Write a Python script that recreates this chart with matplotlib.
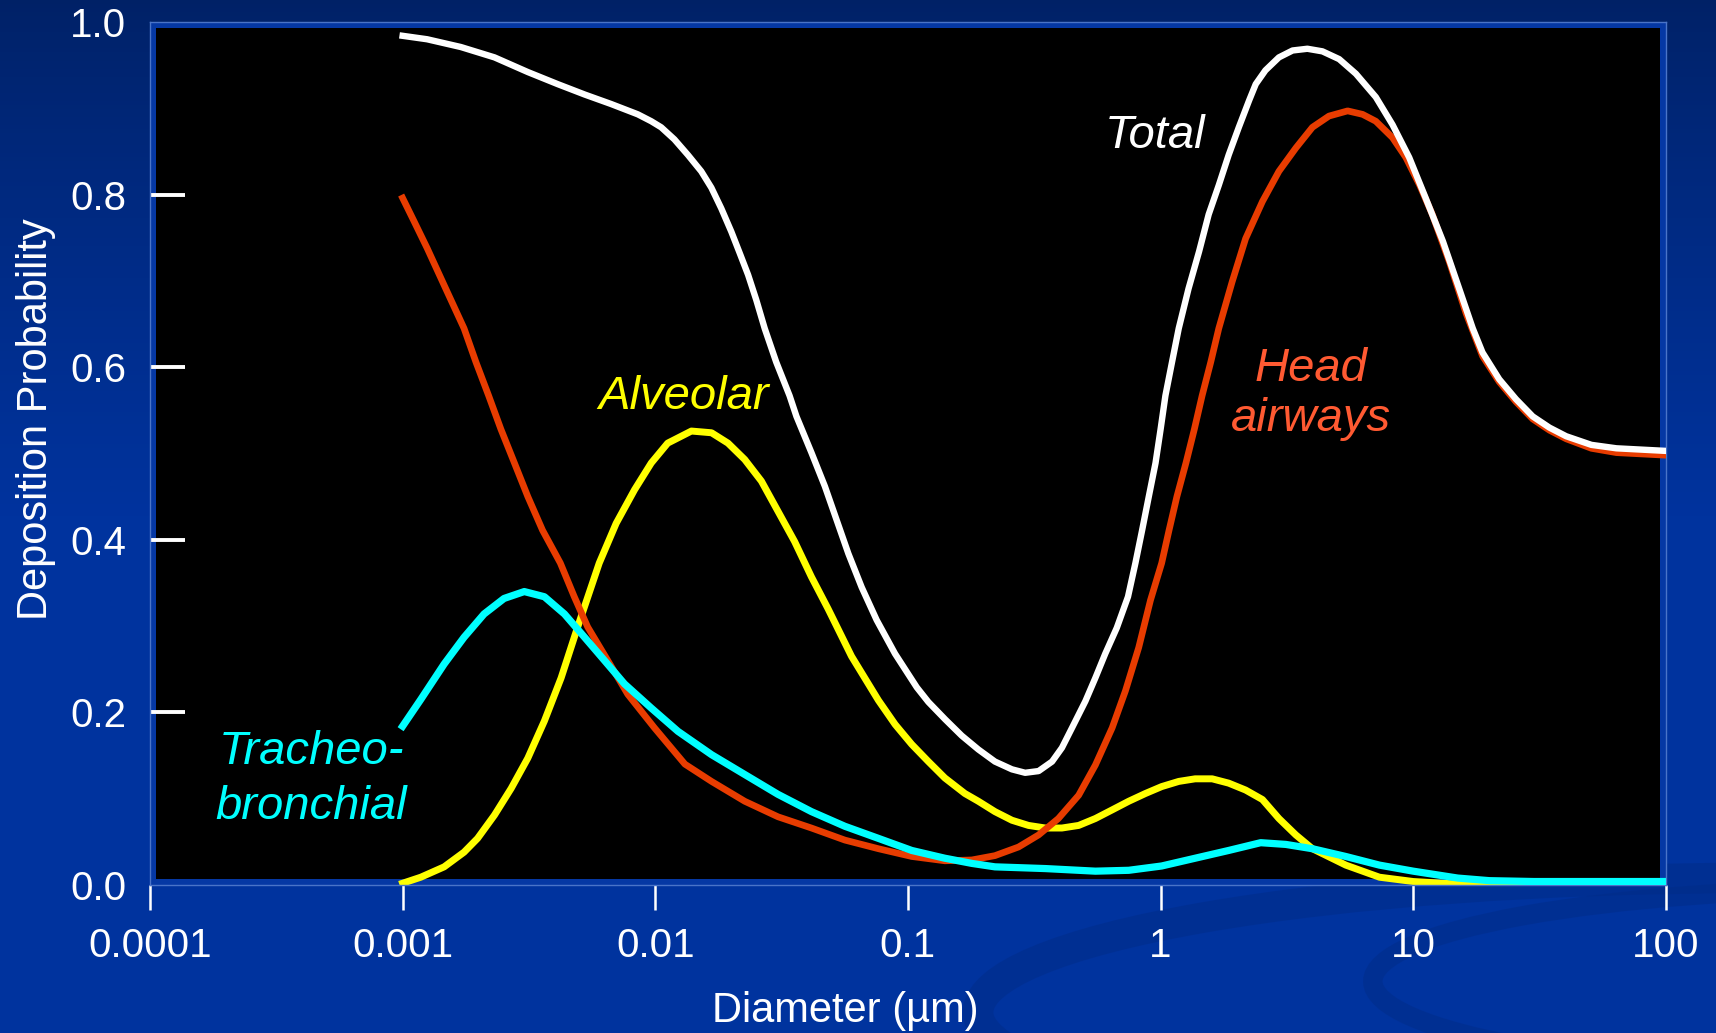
import numpy as np
import matplotlib
matplotlib.use('Agg')
import matplotlib.pyplot as plt
from matplotlib.patches import Rectangle, Ellipse

plt.rcParams['font.family'] = ['Liberation Sans', 'DejaVu Sans']

# Total
d_total = [0.001, 0.00125, 0.0017, 0.00231, 0.00313, 0.00411, 0.00525, 0.00668, 0.00853, 0.00964,
           0.01055, 0.0119, 0.01346, 0.0152, 0.01667, 0.01825, 0.0200, 0.0216, 0.0233, 0.0251,
           0.0271, 0.0301, 0.0340, 0.0362, 0.0415, 0.0469, 0.0522, 0.0581, 0.0656, 0.0752,
           0.0889, 0.1084, 0.1205, 0.1403, 0.1633, 0.190, 0.221, 0.258, 0.291, 0.329,
           0.372, 0.407, 0.446, 0.504, 0.552, 0.604, 0.671, 0.743, 0.795, 0.845,
           0.898, 0.955, 1.0, 1.045, 1.11, 1.18, 1.29, 1.42, 1.55, 1.70,
           1.86, 2.04, 2.24, 2.38, 2.60, 2.94, 3.33, 3.81, 4.37, 5.09,
           5.93, 7.11, 8.28, 9.64, 11.2, 13.1, 15.2, 17.2, 18.8, 21.9,
           25.5, 29.7, 34.6, 40.3, 50.7, 63.7, 100]
p_total = [0.984, 0.980, 0.971, 0.959, 0.942, 0.928, 0.916, 0.905, 0.893, 0.885,
           0.878, 0.864, 0.846, 0.827, 0.808, 0.784, 0.757, 0.732, 0.707, 0.678,
           0.645, 0.606, 0.567, 0.543, 0.501, 0.462, 0.423, 0.384, 0.345, 0.307,
           0.268, 0.229, 0.212, 0.192, 0.173, 0.157, 0.143, 0.134, 0.130, 0.132,
           0.143, 0.159, 0.182, 0.213, 0.240, 0.268, 0.298, 0.334, 0.373, 0.411,
           0.450, 0.489, 0.528, 0.567, 0.606, 0.645, 0.691, 0.734, 0.777, 0.811,
           0.846, 0.878, 0.909, 0.928, 0.944, 0.959, 0.967, 0.969, 0.966, 0.957,
           0.940, 0.913, 0.881, 0.843, 0.796, 0.746, 0.691, 0.645, 0.617, 0.586,
           0.563, 0.543, 0.530, 0.520, 0.510, 0.506, 0.503]

# Head airways
d_head = [0.001, 0.00111, 0.00125, 0.00146, 0.00175, 0.00195, 0.00219, 0.00245, 0.00277, 0.00313,
          0.00358, 0.00421, 0.00478, 0.0054, 0.00649, 0.00778, 0.00993, 0.0131, 0.0167, 0.0226,
          0.0306, 0.0415, 0.0563, 0.0764, 0.1035, 0.140, 0.179, 0.221, 0.274, 0.329,
          0.394, 0.474, 0.552, 0.643, 0.726, 0.819, 0.912, 1.01, 1.08, 1.16,
          1.26, 1.36, 1.46, 1.58, 1.70, 1.92, 2.17, 2.53, 2.94, 3.43,
          3.99, 4.64, 5.50, 6.30, 7.11, 8.28, 9.35, 10.6, 11.9, 13.9,
          16.2, 18.8, 21.9, 25.5, 29.7, 34.6, 40.3, 50.7, 63.7, 100]
p_head = [0.796, 0.769, 0.738, 0.695, 0.645, 0.606, 0.567, 0.528, 0.489, 0.450,
          0.411, 0.373, 0.334, 0.299, 0.260, 0.221, 0.182, 0.140, 0.120, 0.097,
          0.079, 0.066, 0.052, 0.042, 0.033, 0.028, 0.029, 0.034, 0.044, 0.058,
          0.077, 0.104, 0.139, 0.182, 0.225, 0.275, 0.330, 0.373, 0.411, 0.450,
          0.489, 0.528, 0.567, 0.606, 0.645, 0.699, 0.749, 0.792, 0.827, 0.854,
          0.878, 0.891, 0.897, 0.893, 0.885, 0.866, 0.843, 0.811, 0.777, 0.722,
          0.662, 0.613, 0.583, 0.560, 0.540, 0.527, 0.517, 0.506, 0.501, 0.498]

# Alveolar
d_alv = [0.001, 0.00118, 0.00146, 0.00175, 0.00198, 0.00231, 0.00269, 0.00313, 0.00364, 0.00424,
         0.00493, 0.0060, 0.0070, 0.00828, 0.00964, 0.0112, 0.0139, 0.0167, 0.0194, 0.0226,
         0.0263, 0.0306, 0.0356, 0.0415, 0.0483, 0.0598, 0.0764, 0.0890, 0.1035, 0.1205,
         0.140, 0.168, 0.190, 0.221, 0.258, 0.300, 0.350, 0.407, 0.474, 0.552,
         0.643, 0.748, 0.871, 1.01, 1.18, 1.37, 1.60, 1.86, 2.17, 2.53,
         2.94, 3.43, 3.99, 5.41, 7.35, 10, 15, 20, 40, 100]
p_alv = [0.002, 0.009, 0.021, 0.038, 0.054, 0.081, 0.112, 0.147, 0.190, 0.240,
         0.299, 0.373, 0.419, 0.458, 0.489, 0.512, 0.526, 0.524, 0.512, 0.493,
         0.468, 0.433, 0.398, 0.357, 0.320, 0.265, 0.214, 0.186, 0.163, 0.143,
         0.124, 0.106, 0.097, 0.085, 0.075, 0.069, 0.066, 0.066, 0.069, 0.077,
         0.087, 0.097, 0.106, 0.114, 0.120, 0.123, 0.123, 0.118, 0.110, 0.099,
         0.077, 0.058, 0.042, 0.023, 0.009, 0.004, 0.001, 0.0, 0.0, 0.002]

# Tracheo-bronchial
d_tb = [0.001, 0.00118, 0.00146, 0.00175, 0.0021, 0.00252, 0.00303, 0.00364, 0.00437, 0.00525,
        0.0063, 0.00755, 0.00964, 0.0123, 0.0167, 0.0226, 0.0306, 0.0415, 0.0563, 0.0764,
        0.1035, 0.140, 0.179, 0.221, 0.350, 0.552, 0.748, 1.01, 1.37, 1.86,
        2.49, 3.13, 3.99, 5.41, 7.35, 10, 15, 20, 30, 100]
p_tb = [0.184, 0.215, 0.256, 0.287, 0.314, 0.332, 0.340, 0.334, 0.314, 0.287,
        0.260, 0.233, 0.205, 0.178, 0.151, 0.128, 0.105, 0.085, 0.068, 0.054,
        0.040, 0.031, 0.025, 0.021, 0.019, 0.016, 0.017, 0.022, 0.031, 0.040,
        0.049, 0.047, 0.042, 0.033, 0.023, 0.016, 0.008, 0.005, 0.004, 0.004]

xticks = [0.0001, 0.001, 0.01, 0.1, 1, 10, 100]
xlabels = ['0.0001', '0.001', '0.01', '0.1', '1', '10', '100']
yticks = [0.0, 0.2, 0.4, 0.6, 0.8, 1.0]

fig = plt.figure(figsize=(17.16, 10.33), dpi=100)

# fondo degradado
bg = fig.add_axes([0, 0, 1, 1], zorder=-10)
grad = np.linspace(0, 1, 256).reshape(-1, 1)
top_c = np.array([0.0, 0.13, 0.40])
bot_c = np.array([0.0, 0.20, 0.62])
w = np.clip(grad / 0.5, 0, 1) ** 0.8
img = top_c * (1 - w[..., None]) + bot_c * w[..., None]
img = np.repeat(img, 2, axis=1)
bg.imshow(img, aspect='auto', extent=[0, 1, 0, 1])
bg.add_patch(Ellipse((1.02, 0.02), 0.9, 0.26, fill=False, edgecolor='#002e8e', lw=22, alpha=0.7))
bg.add_patch(Ellipse((1.1, 0.05), 0.6, 0.18, fill=False, edgecolor='#002c88', lw=14, alpha=0.5))
bg.set_xlim(0, 1)
bg.set_ylim(0, 1)
bg.axis('off')

ax = fig.add_axes([0.0874, 0.1433, 0.8834, 0.8354])
ax.set_facecolor('#0538a4')
ax.add_patch(Rectangle((0.004, 0.007), 0.992, 0.986, transform=ax.transAxes,
                       facecolor='black', edgecolor='none', zorder=0.5))

ax.plot(d_alv, p_alv, color='#ffff00', lw=5, zorder=2, solid_joinstyle='round')
ax.plot(d_head, p_head, color='#e83c00', lw=4.8, zorder=3, solid_joinstyle='round')
ax.plot(d_total, p_total, color='white', lw=4.6, zorder=4, solid_joinstyle='round')
ax.plot(d_tb, p_tb, color='#00ffff', lw=5.2, zorder=5, solid_joinstyle='round')

ax.set_xscale('log')
ax.set_xlim(0.0001, 100)
ax.set_ylim(0, 1)
ax.set_xticks(xticks)
ax.set_xticklabels(xlabels)
ax.minorticks_off()
ax.set_yticks(yticks)
ax.set_yticklabels(['%.1f' % v for v in yticks])

for s in ax.spines.values():
    s.set_color('#4a74c8')
    s.set_linewidth(1)

ax.tick_params(axis='y', direction='in', length=25, width=2.8, color='white',
               labelcolor='white', labelsize=29, pad=17)
ax.tick_params(axis='x', direction='out', length=18, width=1.8, color='white',
               labelcolor='white', labelsize=29, pad=12)
yt = ax.yaxis.get_major_ticks()
yt[0].tick1line.set_visible(False)
yt[-1].tick1line.set_visible(False)

tkw = dict(fontsize=34, style='italic')
ax.text(1.50, 0.854, 'Total', color='white', ha='right', va='baseline', **tkw)
ax.text(3.94, 0.584, 'Head', color='#ff5a32', ha='center', va='baseline', **tkw)
ax.text(3.94, 0.526, 'airways', color='#ff5a32', ha='center', va='baseline', **tkw)
ax.text(0.013, 0.551, 'Alveolar', color='#ffff00', ha='center', va='baseline', **tkw)
ax.text(0.000187, 0.140, 'Tracheo-', color='#00ffff', ha='left', va='baseline', **tkw)
ax.text(0.000182, 0.077, 'bronchial', color='#00ffff', ha='left', va='baseline', **tkw)

fig.text(0.4924, 0.0106, 'Diameter (\u00b5m)', color='white', fontsize=30,
         ha='center', va='baseline')
fig.text(0.021, 0.594, 'Deposition Probability', color='white', fontsize=30,
         rotation=90, ha='center', va='center')

fig.savefig('out.png', dpi=100)
